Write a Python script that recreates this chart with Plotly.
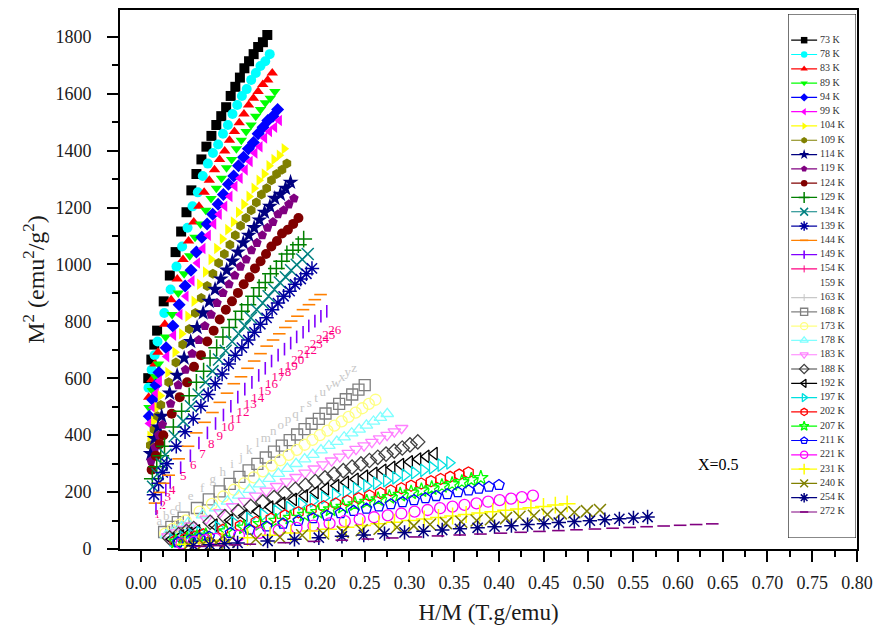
import string
import plotly.graph_objects as go

# Applied field steps (T)
fields = [0.2, 0.3, 0.4, 0.5, 0.75, 1.0, 1.25, 1.5, 1.75, 2.0, 2.25, 2.5, 2.75,
          3.0, 3.25, 3.5, 3.75, 4.0, 4.25, 4.5, 4.75, 5.0, 5.25, 5.5, 5.75, 6.0]

temperatures = [73, 78, 83, 89, 94, 99, 104, 109, 114, 119, 124, 129, 134, 139,
                144, 149, 154, 159, 163, 168, 173, 178, 183, 188, 192, 197, 202,
                207, 211, 221, 231, 240, 254, 272]

# Magnetization M (emu/g) at each field step, one list per isotherm
m_073 = [24.5, 25.8, 26.8, 27.7, 29.5, 31.0, 32.3, 33.4, 34.4, 35.5, 36.3, 37.0, 37.6, 38.1, 38.6, 39.0, 39.4, 39.9, 40.3, 40.7, 41.1, 41.4, 41.7, 42.0, 42.2, 42.5]
m_078 = [23.8, 25.1, 26.1, 27.0, 28.8, 30.2, 31.5, 32.6, 33.6, 34.7, 35.4, 36.2, 36.8, 37.3, 37.7, 38.2, 38.6, 39.1, 39.5, 39.9, 40.2, 40.6, 40.9, 41.2, 41.4, 41.7]
m_083 = [23.1, 24.4, 25.5, 26.3, 28.1, 29.6, 30.8, 31.9, 32.9, 33.9, 34.7, 35.4, 36.0, 36.5, 37.0, 37.4, 37.9, 38.3, 38.7, 39.1, 39.5, 39.8, 40.1, 40.4, 40.6, 40.9]
m_089 = [22.3, 23.6, 24.6, 25.5, 27.3, 28.7, 30.0, 31.1, 32.1, 33.1, 33.8, 34.5, 35.1, 35.6, 36.1, 36.6, 37.0, 37.5, 37.9, 38.3, 38.6, 39.0, 39.3, 39.6, 39.8, 40.1]
m_094 = [21.6, 22.9, 24.0, 24.9, 26.6, 28.0, 29.3, 30.4, 31.3, 32.3, 33.1, 33.8, 34.3, 34.8, 35.3, 35.8, 36.2, 36.7, 37.1, 37.5, 37.8, 38.2, 38.5, 38.8, 39.0, 39.3]
m_099 = [21.0, 22.3, 23.4, 24.3, 26.0, 27.4, 28.7, 29.8, 30.7, 31.7, 32.5, 33.2, 33.8, 34.3, 34.7, 35.2, 35.7, 36.1, 36.5, 36.9, 37.3, 37.6, 38.0, 38.3, 38.5, 38.8]
m_104 = [19.9, 21.2, 22.3, 23.2, 24.9, 26.3, 27.5, 28.6, 29.5, 30.5, 31.2, 31.9, 32.5, 33.0, 33.5, 33.9, 34.4, 34.8, 35.2, 35.6, 36.0, 36.3, 36.7, 37.0, 37.2, 37.5]
m_109 = [19.1, 20.5, 21.6, 22.5, 24.2, 25.6, 26.8, 27.8, 28.8, 29.7, 30.4, 31.1, 31.7, 32.2, 32.7, 33.2, 33.7, 34.1, 34.5, 34.9, 35.3, 35.6, 36.0, 36.3, 36.5, 36.8]
m_114 = [18.3, 19.7, 20.7, 21.6, 23.4, 24.7, 25.9, 27.0, 27.9, 28.8, 29.5, 30.2, 30.8, 31.3, 31.8, 32.3, 32.8, 33.2, 33.6, 34.0, 34.4, 34.7, 35.1, 35.3, 35.6, 35.9]
m_119 = [17.6, 18.9, 20.0, 20.9, 22.6, 24.0, 25.1, 26.2, 27.1, 28.0, 28.7, 29.4, 30.0, 30.5, 31.0, 31.5, 31.9, 32.4, 32.8, 33.2, 33.6, 33.9, 34.3, 34.5, 34.8, 35.1]
m_124 = [16.7, 18.1, 19.2, 20.0, 21.8, 23.1, 24.2, 25.3, 26.1, 27.0, 27.7, 28.4, 29.0, 29.5, 30.0, 30.5, 30.9, 31.4, 31.8, 32.2, 32.6, 32.9, 33.3, 33.5, 33.8, 34.1]
m_129 = [15.7, 17.0, 18.1, 19.0, 20.7, 22.0, 23.2, 24.2, 25.0, 25.9, 26.6, 27.3, 27.9, 28.4, 28.9, 29.3, 29.8, 30.3, 30.6, 31.1, 31.4, 31.8, 32.2, 32.4, 32.7, 33.0]
m_134 = [14.8, 16.2, 17.3, 18.2, 19.9, 21.2, 22.4, 23.3, 24.2, 25.0, 25.8, 26.4, 27.0, 27.5, 28.0, 28.5, 29.0, 29.4, 29.8, 30.2, 30.6, 30.9, 31.3, 31.6, 31.9, 32.2]
m_139 = [13.8, 15.2, 16.4, 17.3, 19.0, 20.3, 21.4, 22.4, 23.3, 24.1, 24.8, 25.5, 26.1, 26.6, 27.1, 27.6, 28.1, 28.5, 29.0, 29.4, 29.8, 30.1, 30.5, 30.8, 31.1, 31.4]
m_144 = [12.7, 14.1, 15.2, 16.1, 17.8, 19.0, 20.2, 21.1, 21.9, 22.7, 23.4, 24.1, 24.6, 25.2, 25.7, 26.2, 26.7, 27.1, 27.5, 27.9, 28.3, 28.6, 29.0, 29.3, 29.6, 29.9]
m_149 = [11.9, 13.2, 14.4, 15.3, 16.9, 18.1, 19.3, 20.2, 21.0, 21.7, 22.4, 23.1, 23.7, 24.2, 24.7, 25.2, 25.7, 26.1, 26.5, 26.9, 27.3, 27.6, 28.0, 28.3, 28.6, 28.9]
m_154 = [10.9, 12.3, 13.4, 14.3, 15.9, 17.1, 18.2, 19.1, 19.9, 20.6, 21.3, 21.9, 22.5, 23.0, 23.5, 24.0, 24.5, 24.9, 25.3, 25.7, 26.1, 26.4, 26.8, 27.1, 27.4, 27.7]
m_159 = [10.3, 11.5, 12.4, 13.2, 14.7, 15.9, 16.9, 17.8, 18.6, 19.3, 20.0, 20.6, 21.1, 21.7, 22.2, 22.7, 23.1, 23.6, 24.0, 24.4, 24.8, 25.1, 25.5, 25.8, 26.2, 26.5]
m_163 = [9.7, 10.6, 11.4, 12.1, 13.5, 14.6, 15.6, 16.4, 17.2, 17.9, 18.6, 19.2, 19.7, 20.3, 20.8, 21.3, 21.7, 22.2, 22.6, 23.0, 23.4, 23.8, 24.1, 24.5, 24.9, 25.2]
m_168 = [7.73, 8.83, 9.72, 10.49, 12.0, 13.2, 14.23, 15.12, 15.91, 16.63, 17.3, 17.93, 18.5, 19.06, 19.56, 20.06, 20.52, 20.98, 21.38, 21.82, 22.2, 22.58, 22.94, 23.3, 23.66, 24.0]
m_173 = [7.37, 8.43, 9.27, 10.01, 11.45, 12.6, 13.58, 14.43, 15.18, 15.87, 16.51, 17.11, 17.66, 18.18, 18.66, 19.14, 19.58, 20.01, 20.4, 20.82, 21.18, 21.55, 21.89, 22.24, 22.58, 22.9]
m_178 = [7.02, 8.02, 8.83, 9.53, 10.9, 11.99, 12.93, 13.73, 14.45, 15.11, 15.72, 16.28, 16.81, 17.31, 17.77, 18.22, 18.64, 19.05, 19.42, 19.82, 20.17, 20.51, 20.84, 21.17, 21.49, 21.8]
m_183 = [6.63, 7.58, 8.34, 9.0, 10.3, 11.33, 12.22, 12.98, 13.66, 14.28, 14.85, 15.39, 15.88, 16.36, 16.79, 17.22, 17.61, 18.0, 18.35, 18.73, 19.06, 19.38, 19.69, 20.0, 20.31, 20.6]
m_188 = [6.25, 7.14, 7.86, 8.48, 9.7, 10.67, 11.5, 12.22, 12.86, 13.44, 13.99, 14.49, 14.96, 15.4, 15.81, 16.22, 16.59, 16.96, 17.29, 17.63, 17.95, 18.26, 18.55, 18.84, 19.13, 19.4]
m_192 = [5.89, 6.73, 7.41, 8.0, 9.15, 10.07, 10.85, 11.53, 12.13, 12.68, 13.19, 13.67, 14.11, 14.53, 14.91, 15.3, 15.65, 15.99, 16.31, 16.63, 16.93, 17.22, 17.49, 17.77, 18.04, 18.3]
m_197 = [5.6, 6.4, 7.05, 7.6, 8.7, 9.57, 10.32, 10.96, 11.54, 12.06, 12.55, 13.0, 13.42, 13.82, 14.18, 14.55, 14.88, 15.21, 15.5, 15.82, 16.1, 16.37, 16.63, 16.9, 17.16, 17.4]
m_202 = [5.28, 6.04, 6.64, 7.17, 8.2, 9.02, 9.73, 10.33, 10.87, 11.37, 11.82, 12.25, 12.64, 13.02, 13.37, 13.71, 14.02, 14.33, 14.61, 14.91, 15.17, 15.43, 15.68, 15.92, 16.17, 16.4]
m_207 = [5.09, 5.81, 6.4, 6.9, 7.9, 8.69, 9.37, 9.95, 10.48, 10.95, 11.39, 11.8, 12.18, 12.55, 12.88, 13.21, 13.51, 13.81, 14.08, 14.36, 14.62, 14.87, 15.1, 15.34, 15.58, 15.8]
m_211 = [4.83, 5.52, 6.08, 6.56, 7.5, 8.25, 8.9, 9.45, 9.95, 10.4, 10.82, 11.21, 11.57, 11.91, 12.23, 12.54, 12.83, 13.11, 13.37, 13.64, 13.88, 14.12, 14.34, 14.57, 14.79, 15.0]
m_221 = [4.41, 5.04, 5.55, 5.99, 6.85, 7.54, 8.12, 8.63, 9.08, 9.49, 9.88, 10.23, 10.56, 10.88, 11.17, 11.45, 11.71, 11.97, 12.21, 12.45, 12.67, 12.89, 13.1, 13.3, 13.51, 13.7]
m_231 = [4.06, 4.64, 5.1, 5.51, 6.3, 6.93, 7.47, 7.94, 8.35, 8.73, 9.08, 9.41, 9.71, 10.0, 10.27, 10.53, 10.77, 11.01, 11.23, 11.45, 11.66, 11.86, 12.05, 12.23, 12.42, 12.6]
m_240 = [3.77, 4.31, 4.74, 5.11, 5.85, 6.44, 6.94, 7.37, 7.76, 8.11, 8.44, 8.74, 9.02, 9.29, 9.54, 9.78, 10.0, 10.23, 10.42, 10.64, 10.82, 11.01, 11.19, 11.36, 11.54, 11.7]
m_254 = [3.41, 3.9, 4.29, 4.63, 5.3, 5.83, 6.29, 6.68, 7.03, 7.35, 7.64, 7.92, 8.17, 8.42, 8.64, 8.86, 9.06, 9.26, 9.44, 9.64, 9.81, 9.97, 10.13, 10.29, 10.45, 10.6]
m_272 = [3.03, 3.46, 3.81, 4.11, 4.7, 5.17, 5.57, 5.92, 6.23, 6.51, 6.78, 7.02, 7.25, 7.46, 7.66, 7.86, 8.04, 8.22, 8.38, 8.54, 8.7, 8.85, 8.99, 9.13, 9.27, 9.4]

magnetization = [m_073, m_078, m_083, m_089, m_094, m_099, m_104, m_109, m_114,
                 m_119, m_124, m_129, m_134, m_139, m_144, m_149, m_154, m_159,
                 m_163, m_168, m_173, m_178, m_183, m_188, m_192, m_197, m_202,
                 m_207, m_211, m_221, m_231, m_240, m_254, m_272]

# (colour, symbol, kind) for each isotherm
styles = [
    ("#000000", "square", "filled"),
    ("#00ffff", "circle", "filled"),
    ("#ff0000", "triangle-up", "filled"),
    ("#00ff00", "triangle-down", "filled"),
    ("#0000ff", "diamond", "filled"),
    ("#ff00ff", "triangle-left", "filled"),
    ("#ffff00", "triangle-right", "filled"),
    ("#808000", "hexagon", "filled"),
    ("#000080", "star", "filled"),
    ("#800080", "pentagon", "filled"),
    ("#800000", "circle", "filled"),
    ("#008000", "cross-thin-open", "thin"),
    ("#008080", "x-thin-open", "thin"),
    ("#0000a0", "asterisk-open", "thin"),
    ("#ff8000", "line-ew-open", "dash"),
    ("#8000ff", "line-ns-open", "dash"),
    ("#ff0080", "numbers", "text"),
    ("#ffffff", "upper", "text"),
    ("#c8c8c8", "lower", "text"),
    ("#808080", "square-open", "open"),
    ("#ffff80", "circle-open", "open"),
    ("#80ffff", "triangle-up-open", "open"),
    ("#ff80ff", "triangle-down-open", "open"),
    ("#404040", "diamond-open", "open"),
    ("#000000", "triangle-left-open", "open"),
    ("#00e0e0", "triangle-right-open", "open"),
    ("#ff0000", "hexagon-open", "open"),
    ("#00ff00", "star-open", "open"),
    ("#0000ff", "pentagon-open", "open"),
    ("#ff00ff", "circle-open", "open"),
    ("#ffff00", "cross-thin-open", "thin"),
    ("#808000", "x-thin-open", "thin"),
    ("#000080", "asterisk-open", "thin"),
    ("#800080", "line-ew-open", "dash"),
]

SERIF = "Liberation Serif"


def marker_for(color, symbol, kind, scale=1.0):
    if kind == "filled":
        size = 10 if symbol != "star" else 12
        return dict(symbol=symbol, color=color, size=size * scale, line=dict(width=0))
    if kind == "open":
        return dict(symbol=symbol, color=color, size=11 * scale,
                    line=dict(color=color, width=1.3))
    if kind == "dash":
        return dict(symbol=symbol, color=color, size=9 * scale,
                    line=dict(color=color, width=1.6))
    return dict(symbol=symbol, color=color, size=12 * scale,
                line=dict(color=color, width=1.5))


fig = go.Figure()

# Arrott plot: M^2 against H/M for every isotherm
for temp, m_vals, (color, symbol, kind) in zip(temperatures, magnetization, styles):
    xs = [h / m for h, m in zip(fields, m_vals)]
    ys = [m * m for m in m_vals]
    if kind == "text":
        if symbol == "numbers":
            labels = [str(i + 1) for i in range(len(xs))]
        elif symbol == "upper":
            labels = list(string.ascii_uppercase[:len(xs)])
        else:
            labels = list(string.ascii_lowercase[:len(xs)])
        fig.add_trace(go.Scatter(x=xs, y=ys, mode="text", text=labels,
                                 textfont=dict(family=SERIF, size=13, color=color),
                                 name=f"{temp} K", hoverinfo="x+y+name"))
    else:
        fig.add_trace(go.Scatter(x=xs, y=ys, mode="markers", name=f"{temp} K",
                                 marker=marker_for(color, symbol, kind)))

# Legend box drawn on its own pixel-scaled axes
LEG_X0, LEG_X1, LEG_Y0, LEG_Y1 = 790, 858, 12, 538
PLOT_L, PLOT_R, PLOT_T, PLOT_B = 120, 859, 8, 549
row0, row_step = 38.3, 14.35

for i, (temp, (color, symbol, kind)) in enumerate(zip(temperatures, styles)):
    yy = row0 + row_step * i
    fig.add_trace(go.Scatter(x=[793, 819], y=[yy, yy], mode="lines",
                             line=dict(color=color, width=1.2),
                             xaxis="x2", yaxis="y2", hoverinfo="skip", cliponaxis=False))
    if kind == "text":
        mk = dict(symbol="line-ns-open", color=color, size=5, line=dict(color=color, width=1))
    else:
        mk = marker_for(color, symbol, kind, scale=0.65)
    fig.add_trace(go.Scatter(x=[806], y=[yy], mode="markers", marker=mk,
                             xaxis="x2", yaxis="y2", hoverinfo="skip", cliponaxis=False))

fig.add_trace(go.Scatter(
    x=[822] * len(temperatures),
    y=[row0 + row_step * i for i in range(len(temperatures))],
    mode="text", text=[f"{t} K" for t in temperatures], textposition="middle right",
    textfont=dict(family=SERIF, size=10, color="#333333"),
    xaxis="x2", yaxis="y2", hoverinfo="skip", cliponaxis=False))

fig.add_shape(type="rect", xref="x2", yref="y2", x0=LEG_X0, x1=LEG_X1,
              y0=LEG_Y0, y1=LEG_Y1, line=dict(color="black", width=1),
              fillcolor="white", layer="below")

fig.add_annotation(x=0.645, y=298, xref="x", yref="y", text="X=0.5", showarrow=False,
                   font=dict(family=SERIF, size=16, color="black"))

pw = PLOT_R - PLOT_L
ph = PLOT_B - PLOT_T

fig.update_layout(
    width=881, height=641,
    margin=dict(l=PLOT_L, r=881 - PLOT_R, t=PLOT_T, b=641 - PLOT_B),
    paper_bgcolor="white", plot_bgcolor="white", showlegend=False,
    font=dict(family=SERIF, color="#1a1a1a"),
    xaxis=dict(range=[-0.0234, 0.80], tick0=0, dtick=0.05, tickformat=".2f",
               ticks="outside", ticklen=11, tickwidth=2, tickcolor="black",
               showline=True, linewidth=2, linecolor="black", mirror=True,
               showgrid=False, zeroline=False, ticklabelstandoff=5,
               minor=dict(tick0=0, dtick=0.025, ticks="outside", ticklen=6,
                          tickwidth=2, tickcolor="black", showgrid=False),
               tickfont=dict(family=SERIF, size=18, color="#1a1a1a"),
               title=dict(text="H/M (T.g/emu)", standoff=12,
                          font=dict(family=SERIF, size=23, color="#1a1a1a"))),
    yaxis=dict(range=[0, 1894], tick0=0, dtick=200,
               ticks="outside", ticklen=11, tickwidth=2, tickcolor="black",
               showline=True, linewidth=2, linecolor="black", mirror=True,
               showgrid=False, zeroline=False, ticklabelstandoff=12,
               minor=dict(tick0=0, dtick=100, ticks="outside", ticklen=6,
                          tickwidth=2, tickcolor="black", showgrid=False),
               tickfont=dict(family=SERIF, size=18, color="#1a1a1a"),
               title=dict(text="M<sup>2</sup> (emu<sup>2</sup>/g<sup>2</sup>)", standoff=4,
                          font=dict(family=SERIF, size=24, color="#1a1a1a"))),
    xaxis2=dict(domain=[(LEG_X0 - PLOT_L) / pw, (LEG_X1 - PLOT_L) / pw],
                range=[LEG_X0, LEG_X1], visible=False, anchor="y2", fixedrange=True),
    yaxis2=dict(domain=[(PLOT_B - LEG_Y1) / ph, (PLOT_B - LEG_Y0) / ph],
                range=[LEG_Y1, LEG_Y0], visible=False, anchor="x2", fixedrange=True),
)

fig.write_html("out.html")
